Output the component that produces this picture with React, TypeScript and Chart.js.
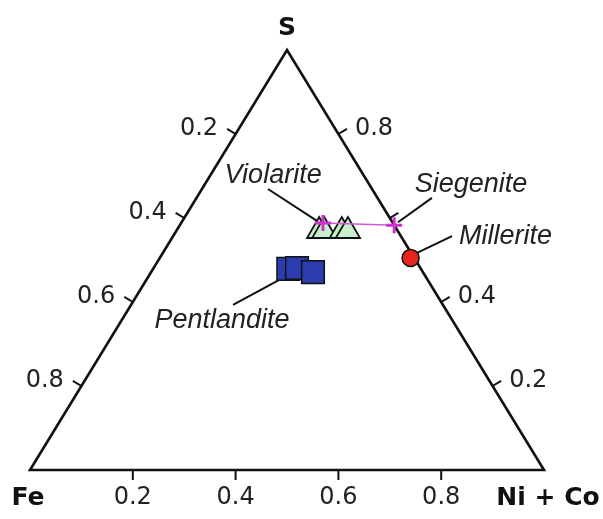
import { useEffect, useRef } from "react";
import { Chart, registerables } from "chart.js";
Chart.register(...registerables);

const W = 603;
const H = 519;

// Compositions as fractions: S and Ni+Co (Fe is the remainder)
const violariteS = [0.569, 0.569, 0.569, 0.569];
const violariteNiCo = [0.278, 0.288, 0.322, 0.334];
const siegeniteS = [0.588, 0.583];
const siegeniteNiCo = [0.276, 0.417];
const milleriteS = [0.505];
const milleriteNiCo = [0.488];
const pentlanditeS = [0.479, 0.481, 0.471];
const pentlanditeNiCo = [0.263, 0.279, 0.315];

const tickValues = [0.2, 0.4, 0.6, 0.8];
const tickLabels = ["0.2", "0.4", "0.6", "0.8"];
const rightTickLabels = ["0.2", "0.4", "", "0.8"];
const vertexLabels = ["Fe", "Ni + Co", "S"];
const mineralNames = ["Violarite", "Siegenite", "Millerite", "Pentlandite"];

// annotation layout (cartesian ternary coords: X = NiCo + S/2, Y = S)
const nameAnchors = [
  [0.473, 0.702],
  [0.858, 0.679],
  [0.925, 0.555],
  [0.3735, 0.357],
];
const leaderLines = [
  [0.463, 0.669, 0.562, 0.590],
  [0.782, 0.648, 0.716, 0.590],
  [0.821, 0.557, 0.753, 0.517],
  [0.395, 0.393, 0.484, 0.452],
];

const toXY = (s: number[], n: number[]) =>
  s.map((sv, i) => ({ x: n[i] + sv / 2, y: sv }));

const ternaryPlugin = {
  id: "ternary",
  beforeDatasetsDraw(chart: any) {
    const { ctx } = chart;
    const xs = chart.scales.x;
    const ys = chart.scales.y;
    const P = (X: number, Y: number) => [xs.getPixelForValue(X), ys.getPixelForValue(Y)];
    const A = P(0, 0);
    const B = P(1, 0);
    const C = P(0.5, 1);
    ctx.save();
    ctx.strokeStyle = "#111";
    ctx.lineWidth = 2.6;
    ctx.lineJoin = "miter";
    ctx.beginPath();
    ctx.moveTo(A[0], A[1]);
    ctx.lineTo(B[0], B[1]);
    ctx.lineTo(C[0], C[1]);
    ctx.closePath();
    ctx.stroke();

    const tl = 10;
    let dx = C[0] - A[0], dy = C[1] - A[1];
    let len = Math.hypot(dx, dy);
    const nl = [dy / len, -dx / len];
    dx = C[0] - B[0]; dy = C[1] - B[1];
    len = Math.hypot(dx, dy);
    const nr = [-dy / len, dx / len];

    ctx.fillStyle = "#222";
    ctx.font = "24px 'DejaVu Sans'";
    ctx.lineWidth = 2;
    tickValues.forEach((t, i) => {
      const b = P(t, 0);
      ctx.beginPath();
      ctx.moveTo(b[0], b[1]);
      ctx.lineTo(b[0], b[1] + tl);
      ctx.stroke();
      ctx.textAlign = "center";
      ctx.textBaseline = "middle";
      ctx.fillText(tickLabels[i], b[0], b[1] + 28);
      const s = 1 - t;
      const l = P(s / 2, s);
      const le = [l[0] + nl[0] * tl, l[1] + nl[1] * tl];
      ctx.beginPath();
      ctx.moveTo(l[0], l[1]);
      ctx.lineTo(le[0], le[1]);
      ctx.stroke();
      ctx.textAlign = "right";
      ctx.fillText(tickLabels[i], le[0] - 9, le[1]);
      const r = P(1 - t / 2, t);
      const re = [r[0] + nr[0] * tl, r[1] + nr[1] * tl];
      ctx.beginPath();
      ctx.moveTo(r[0], r[1]);
      ctx.lineTo(re[0], re[1]);
      ctx.stroke();
      ctx.textAlign = "left";
      if (rightTickLabels[i]) ctx.fillText(rightTickLabels[i], re[0] + 8, re[1]);
    });

    ctx.font = "bold 25px 'DejaVu Sans'";
    ctx.fillStyle = "#111";
    ctx.textAlign = "center";
    ctx.textBaseline = "middle";
    ctx.fillText(vertexLabels[0], A[0] - 2, A[1] + 28);
    ctx.fillText(vertexLabels[1], B[0] + 4, B[1] + 28);
    ctx.fillText(vertexLabels[2], C[0], C[1] - 22);

    ctx.lineWidth = 2;
    leaderLines.forEach((ln) => {
      const p1 = P(ln[0], ln[1]);
      const p2 = P(ln[2], ln[3]);
      ctx.beginPath();
      ctx.moveTo(p1[0], p1[1]);
      ctx.lineTo(p2[0], p2[1]);
      ctx.stroke();
    });

    ctx.font = "italic 27px 'Liberation Sans'";
    ctx.fillStyle = "#222";
    mineralNames.forEach((name, i) => {
      const p = P(nameAnchors[i][0], nameAnchors[i][1]);
      ctx.fillText(name, p[0], p[1]);
    });
    ctx.restore();
  },
};

export default function App() {
  const ref = useRef<HTMLCanvasElement>(null);
  useEffect(() => {
    if (!ref.current) return;
    const chart = new Chart(ref.current, {
      type: "scatter",
      data: {
        datasets: [
          {
            label: "Siegenite",
            type: "line",
            data: toXY(siegeniteS, siegeniteNiCo),
            showLine: true,
            borderColor: "#d35ad3",
            borderWidth: 1.5,
            pointStyle: "cross",
            pointRadius: 8,
            pointBorderWidth: 3,
            pointBorderColor: "#cc33cc",
            pointBackgroundColor: "#cc33cc",
            clip: false,
          } as any,
          {
            label: "Millerite",
            data: toXY(milleriteS, milleriteNiCo),
            pointStyle: "circle",
            pointRadius: 8.5,
            backgroundColor: "#e5261c",
            borderColor: "#111",
            borderWidth: 1.5,
            clip: false,
          } as any,
          {
            label: "Violarite",
            data: toXY(violariteS, violariteNiCo),
            pointStyle: "triangle",
            pointRadius: 14,
            backgroundColor: "#c8f0cc",
            borderColor: "#111",
            borderWidth: 1.8,
            clip: false,
          } as any,
          {
            label: "Pentlandite",
            data: toXY(pentlanditeS, pentlanditeNiCo),
            pointStyle: "rect",
            pointRadius: 16,
            backgroundColor: "#2b3cb0",
            borderColor: "#111",
            borderWidth: 1.5,
            clip: false,
          } as any,
        ],
      },
      options: {
        animation: false,
        responsive: false,
        devicePixelRatio: 1,
        events: [],
        layout: { padding: { left: 30, right: W - 544, top: 50, bottom: H - 470 } },
        plugins: { legend: { display: false }, tooltip: { enabled: false } },
        scales: {
          x: { type: "linear", min: 0, max: 1, display: false },
          y: { type: "linear", min: 0, max: 1, display: false },
        },
      },
      plugins: [ternaryPlugin],
    });
    return () => chart.destroy();
  }, []);
  return (
    <canvas
      ref={ref}
      width={W}
      height={H}
      style={{ position: "fixed", left: 0, top: 0, width: W, height: H, background: "#fff" }}
    />
  );
}
